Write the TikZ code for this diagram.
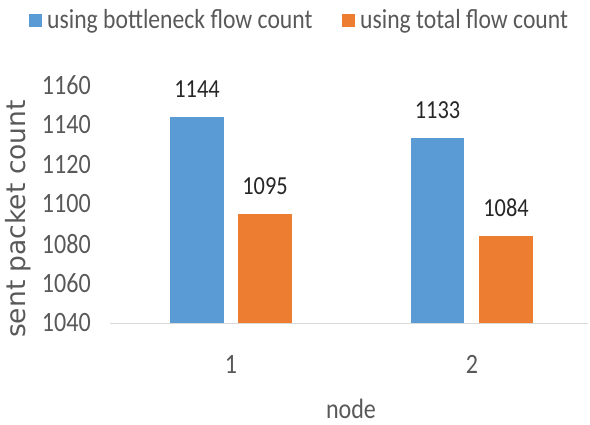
\documentclass[tikz,border=0pt]{standalone}
\usepackage{fontspec}
\setmainfont{Carlito}[FakeStretch=0.86]
\newfontfamily\titlefont{DejaVu Sans}
\definecolor{cblue}{HTML}{5B9BD5}
\definecolor{corange}{HTML}{ED7D31}
\definecolor{ctext}{HTML}{595959}
\definecolor{caxis}{HTML}{D9D9D9}
\tikzset{
  ticklabel/.style={anchor=east, inner sep=0pt, text=ctext, font=\fontsize{28}{30}\selectfont},
  vallabel/.style={anchor=base, inner sep=0pt, text=black!85, font=\fontsize{26}{28}\selectfont},
  catlabel/.style={anchor=base, inner sep=0pt, text=ctext, font=\fontsize{28}{30}\selectfont},
  legtext/.style={anchor=base west, inner sep=0pt, text=ctext, font=\fontsize{27.5}{30}\selectfont},
  bluebar/.style={fill=cblue},
  orangebar/.style={fill=corange}
}
\begin{document}
\begin{tikzpicture}[x=1pt,y=-1pt]
\useasboundingbox (0,0) rectangle (590,424);
% bars
\fill[bluebar] (170,323) rectangle (224,116.6);
\fill[orangebar] (238,323) rectangle (292,214);
\fill[bluebar] (411,323) rectangle (464,138.4);
\fill[orangebar] (479,323) rectangle (533,235.7);
% axis
\coordinate (axl) at (110,323.5);
\coordinate (axr) at (588,323.5);
\draw[caxis, line width=1.2pt] (axl) -- (axr);
% tick labels
\foreach \v [count=\i from 0] in {1040,1060,1080,1100,1120,1140,1160}
  \node[ticklabel] (t\v) at (91,{323-\i*39.7}) {\v};
% value labels
\node[vallabel] (v1) at (197,97) {1144};
\node[vallabel] (v2) at (265,194) {1095};
\node[vallabel] (v3) at (437.5,118) {1133};
\node[vallabel] (v4) at (506,216) {1084};
% category labels
\node[catlabel] (c1) at (231,373) {1};
\node[catlabel] (c2) at (472,373) {2};
\node[catlabel] (xt) at (351,418) {node};
% y title
\node[anchor=base, inner sep=0pt, rotate=90, text=ctext, font=\titlefont\fontsize{26.5}{28}\selectfont] (yt) at (26,219) {sent packet count};
% legend
\fill[cblue] (29,14) rectangle (42,27);
\node[legtext] (l1) at (47,28) {using bottleneck flow count};
\fill[corange] (342,14) rectangle (355,27);
\node[legtext] (l2) at (360,28) {using total flow count};
\end{tikzpicture}
\end{document}
